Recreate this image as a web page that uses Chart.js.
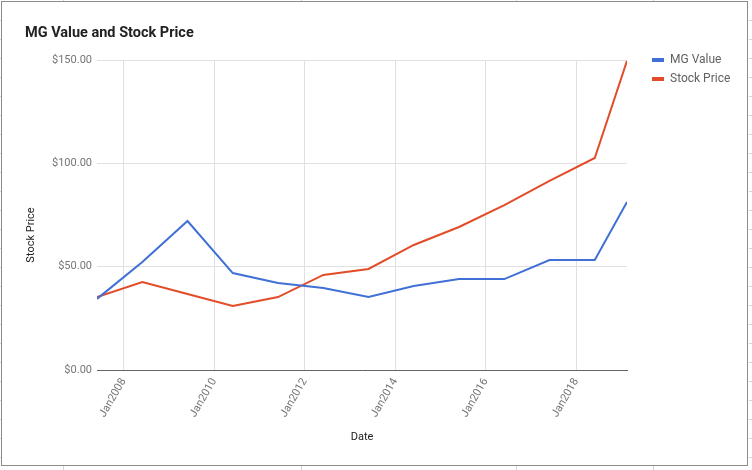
<!DOCTYPE html>
<html>
<head>
<meta charset="utf-8">
<script src="https://cdn.jsdelivr.net/npm/chart.js@4"></script>
<style>
  body { margin: 0; background: #fff; }
  #wrap { position: absolute; left: 0; top: 0; width: 752px; height: 470px; }
  #frame { position: absolute; left: 1px; top: 1px; width: 745px; height: 463px;
           border: 1px solid #8c8c8c; pointer-events: none; }
  .tk { position: absolute; background: #d6d6d6; }
</style>
</head>
<body>
<div id="wrap"><canvas id="chartLite" width="752" height="470"></canvas></div>
<div id="frame"></div>
<script>
// dates of each observation
const dates = ['2007-05-31', '2008-05-31', '2009-05-31', '2010-05-31', '2011-05-31', '2012-05-31',
    '2013-05-31', '2014-05-31', '2015-05-31', '2016-05-31', '2017-05-31', '2018-05-31', '2019-02-15'];
const mgValue = [34.4, 52.3, 72.1, 46.9, 42.1, 39.7, 35.3, 40.6, 44.0, 44.0, 53.2, 53.2, 81.3];
const stockPrice = [35.3, 42.6, 36.8, 31.0, 35.3, 46.0, 48.9, 60.5, 69.2, 79.8, 91.5, 102.6, 149.6];
const tickYears = [2008, 2010, 2012, 2014, 2016, 2018];
const yTicks = [0, 50, 100, 150];

function toYear(s) {
    let d = new Date(s + 'T00:00:00Z');
    let y = d.getUTCFullYear();
    let start = Date.UTC(y, 0, 1), end = Date.UTC(y + 1, 0, 1);
    return y + (d.getTime() - start) / (end - start);
}
const xs = dates.map(toYear);

// spreadsheet cell ticks around the frame
(function () {
    let add = (l, t, w, h) => {
        let e = document.createElement('div');
        e.className = 'tk';
        e.style.cssText = 'left:' + l + 'px;top:' + t + 'px;width:' + w + 'px;height:' + h + 'px';
        document.body.appendChild(e);
    };
    [63, 301, 516, 653].forEach(x => { add(x, 0, 1, 1); add(x, 466, 1, 4); });
    for (let y = 20; y < 465; y += 19) { add(749, y, 3, 1); add(0, y, 1, 1); }
})();

let data = {
    datasets: [{
            label: 'MG Value',
            data: xs.map((x, i) => ({ x: x, y: mgValue[i] })),
            borderColor: '#4070d6',
            backgroundColor: '#4070d6',
            borderWidth: 2,
            pointRadius: 0,
            tension: 0
        },
        {
            label: 'Stock Price',
            data: xs.map((x, i) => ({ x: x, y: stockPrice[i] })),
            borderColor: '#e24c28',
            backgroundColor: '#e24c28',
            borderWidth: 2,
            pointRadius: 0,
            tension: 0
        }
    ]
};

const textPlugin = {
    id: 'texts',
    afterDraw(chart) {
        const c = chart.ctx;
        const area = chart.chartArea;
        c.save();
        c.fillStyle = '#222';
        c.font = 'bold 14.5px Roboto';
        c.textAlign = 'left';
        c.textBaseline = 'alphabetic';
        c.fillText('MG Value and Stock Price', 25, 37);

        c.font = '11px Roboto';
        c.fillStyle = '#222';
        c.textAlign = 'center';
        c.textBaseline = 'middle';
        c.fillText('Date', (area.left + area.right) / 2, 437);
        c.save();
        c.translate(31, 235);
        c.rotate(-Math.PI / 2);
        c.fillText('Stock Price', 0, 0);
        c.restore();

        // legend
        c.textAlign = 'left';
        c.font = '12px Roboto';
        chart.data.datasets.forEach((ds, i) => {
            let y = 60 + i * 19;
            c.fillStyle = ds.borderColor;
            c.fillRect(652, y - 2, 12, 4);
            c.fillStyle = '#616161';
            c.fillText(ds.label, 670, y);
        });
        c.restore();
    }
};

let options = {
    responsive: false,
    animation: false,
    layout: { padding: { left: 24, right: 125, top: 60, bottom: 0 } },
    scales: {
        x: {
            type: 'linear',
            min: xs[0],
            max: xs[xs.length - 1],
            afterBuildTicks: function (scale) {
                scale.ticks = tickYears.map(v => ({ value: v }));
            },
            afterFit: function (scale) { scale.height = 100; },
            grid: { color: '#e0e0e0', drawTicks: false },
            border: { color: '#666', width: 1 },
            ticks: {
                autoSkip: false,
                minRotation: 60,
                maxRotation: 60,
                padding: 6,
                color: '#757575',
                font: { family: 'Roboto', size: 11 },
                callback: v => 'Jan' + v
            }
        },
        y: {
            min: 0,
            max: 150,
            afterBuildTicks: function (scale) {
                scale.ticks = yTicks.map(v => ({ value: v }));
            },
            afterFit: function (scale) { scale.width = 73; },
            grid: { color: '#e0e0e0', drawTicks: false },
            border: { display: false },
            ticks: {
                padding: 5,
                color: '#757575',
                font: { family: 'Roboto', size: 11 },
                callback: v => '$' + v.toFixed(2)
            }
        }
    },
    plugins: {
        legend: { display: false },
        title: { display: false },
        tooltip: { enabled: false }
    }
};

const ctx = document.getElementById("chartLite").getContext("2d");
const myChart = new Chart(ctx, {
    type: 'line',
    data: data,
    options: options,
    plugins: [textPlugin]
});
</script>
</body>
</html>
